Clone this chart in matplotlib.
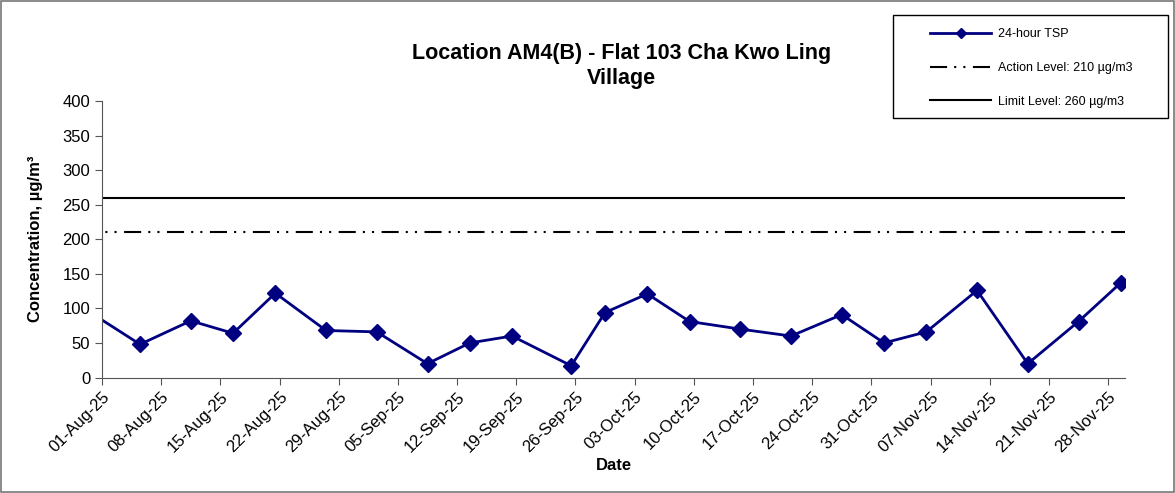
import pandas as pd
import numpy as np
import matplotlib.pyplot as plt
import matplotlib.dates as mdates
from matplotlib.patches import Rectangle

plt.rcParams['font.family'] = ['Liberation Sans', 'DejaVu Sans']

# sampling dates and 24-hour TSP readings (ug/m3)
dates = ['2025-07-30', '2025-08-05', '2025-08-11', '2025-08-16', '2025-08-21',
         '2025-08-27', '2025-09-02', '2025-09-08', '2025-09-13', '2025-09-18',
         '2025-09-25', '2025-09-29', '2025-10-04', '2025-10-09', '2025-10-15',
         '2025-10-21', '2025-10-27', '2025-11-01', '2025-11-06', '2025-11-12',
         '2025-11-18', '2025-11-24', '2025-11-29']
tsp = [95, 48, 82, 64, 122, 68, 66, 20, 50, 60,
       17, 94, 121, 81, 70, 60, 91, 50, 66, 126,
       20, 81, 137]
action_level = 210
limit_level = 260
tick_dates = pd.date_range('2025-08-01', '2025-11-28', freq='7D')

x = pd.to_datetime(dates) + pd.Timedelta(hours=12)
dash_dot_dot = (8.2, 3.4, 1, 3.4, 1, 3.6)

fig = plt.figure(figsize=(11.75, 4.93), dpi=100)
ax = fig.add_axes([102/1175, 1-377.5/493, (1125-102)/1175, 276.5/493])

ax.plot(x, tsp, color='#000080', lw=2, marker='D', ms=8, label='24-hour TSP')
ax.axhline(action_level, color='black', lw=1.5, ls=(10, dash_dot_dot),
           label='Action Level: 210 µg/m3')
ax.axhline(limit_level, color='black', lw=1.5, label='Limit Level: 260 µg/m3')

ax.set_xlim(pd.Timestamp('2025-08-01'), pd.Timestamp('2025-11-30'))
ax.set_ylim(0, 400)
ax.set_yticks(range(0, 401, 50))
ax.set_xticks(tick_dates)
ax.xaxis.set_major_formatter(mdates.DateFormatter('%d-%b-%y'))
ax.tick_params(axis='both', labelsize=12, direction='out', length=5, color='#555555')
plt.setp(ax.get_xticklabels(), rotation=45, ha='right', rotation_mode='anchor')
for s in ['top', 'right']:
    ax.spines[s].set_visible(False)
for s in ['left', 'bottom']:
    ax.spines[s].set_color('#555555')

ax.set_xlabel('Date', fontsize=12, fontweight='bold', labelpad=2)
ax.set_ylabel('Concentration, µg/m³', fontsize=12, fontweight='bold', labelpad=14)
ax.set_title('Location AM4(B) - Flat 103 Cha Kwo Ling\nVillage', fontsize=15.5,
             fontweight='bold', pad=12, x=0.508, linespacing=1.3)

# legend box drawn by hand so its size matches the reference
fig.patches.append(Rectangle((893/1175, 1-118/493), 275/1175, 103/493,
                             transform=fig.transFigure, fill=False,
                             edgecolor='black', lw=1))
leg = fig.legend(loc='upper left', bbox_to_anchor=(925/1175, 1-23/493),
                 fontsize=9, frameon=False, handlelength=4.9, handletextpad=0.5,
                 labelspacing=1.75, borderaxespad=0, markerscale=0.6)
leg.get_lines()[1].set_linestyle((0, dash_dot_dot))

fig.patches.append(Rectangle((0.001, 0.002), 0.998, 0.996, transform=fig.transFigure,
                             fill=False, edgecolor='#777777', lw=1.2))

fig.savefig('out.png', dpi=100)
